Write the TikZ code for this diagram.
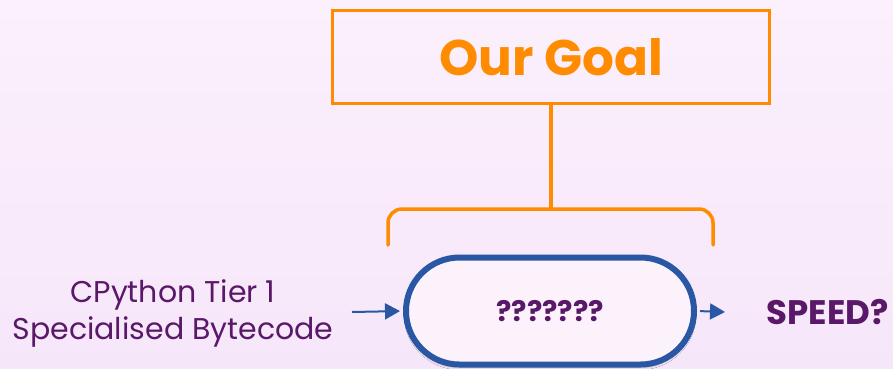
\documentclass[tikz,border=0pt]{standalone}
\usepackage{fontspec}
\setmainfont{Poppins}
\usetikzlibrary{shapes.misc,arrows.meta,shadows.blur}

\definecolor{bgtop}{RGB}{252,240,252}
\definecolor{bgbot}{RGB}{246,230,250}
\definecolor{goalorange}{RGB}{255,140,0}
\definecolor{flowblue}{RGB}{42,87,163}
\definecolor{inkpurple}{RGB}{90,24,104}
\definecolor{stadiumfill}{RGB}{252,242,252}

\tikzset{
  goalbox/.style={draw=goalorange, line width=3.5pt, minimum width=437pt, minimum height=93pt,
    inner sep=0pt, text=goalorange, font=\fontsize{50}{54}\selectfont\bfseries},
  bracketline/.style={draw=goalorange, line width=3.5pt, line cap=round},
  stadium/.style={rounded rectangle, draw=flowblue, line width=6pt, fill=stadiumfill,
    minimum width=288pt, minimum height=107pt, inner sep=0pt,
    blur shadow={shadow xshift=0pt, shadow yshift=-3pt, shadow blur steps=8, shadow opacity=25},
    text=inkpurple, font=\fontsize{28.5}{32}\selectfont\bfseries},
  flowtip/.tip={Triangle[length=15pt,width=16pt]},
  flow/.style={draw=flowblue, line width=2pt, arrows={-flowtip}},
  sidetext/.style={text=inkpurple, align=center, font=\fontsize{30}{37}\selectfont},
  speedtext/.style={text=inkpurple, font=\fontsize{34}{38}\selectfont\bfseries, anchor=west}
}

\begin{document}
\begin{tikzpicture}[x=1pt,y=-1pt]
  % page background with a soft vertical gradient
  \shade[top color=bgtop, bottom color=bgbot] (0,0) rectangle (893,368);
  \useasboundingbox (0,0) rectangle (893,368);

  % goal box and its bracket
  \node[goalbox] (goal) at (551,57) {Our Goal};
  \coordinate (brtop) at (551,209);
  \coordinate (brleft) at (388,245);
  \coordinate (brright) at (713,245);
  \draw[bracketline] (goal.south) -- (brtop);
  \draw[bracketline, rounded corners=14pt] (brleft) |- (brtop) -| (brright);

  % the unknown stage
  \node[stadium] (core) at (550,311) {???????};

  % input and output
  \node[sidetext] (input) at (173,313) {CPython Tier 1\\Specialised Bytecode};
  \coordinate (instart) at (352,312);
  \draw[flow, shorten >=3pt] (instart) -- (core.west);
  \coordinate (outend) at (725,312);
  \draw[flow, shorten <=3pt] (core.east) -- (outend);
  \node[speedtext] (speed) at (763,312) {SPEED?};
\end{tikzpicture}
\end{document}
